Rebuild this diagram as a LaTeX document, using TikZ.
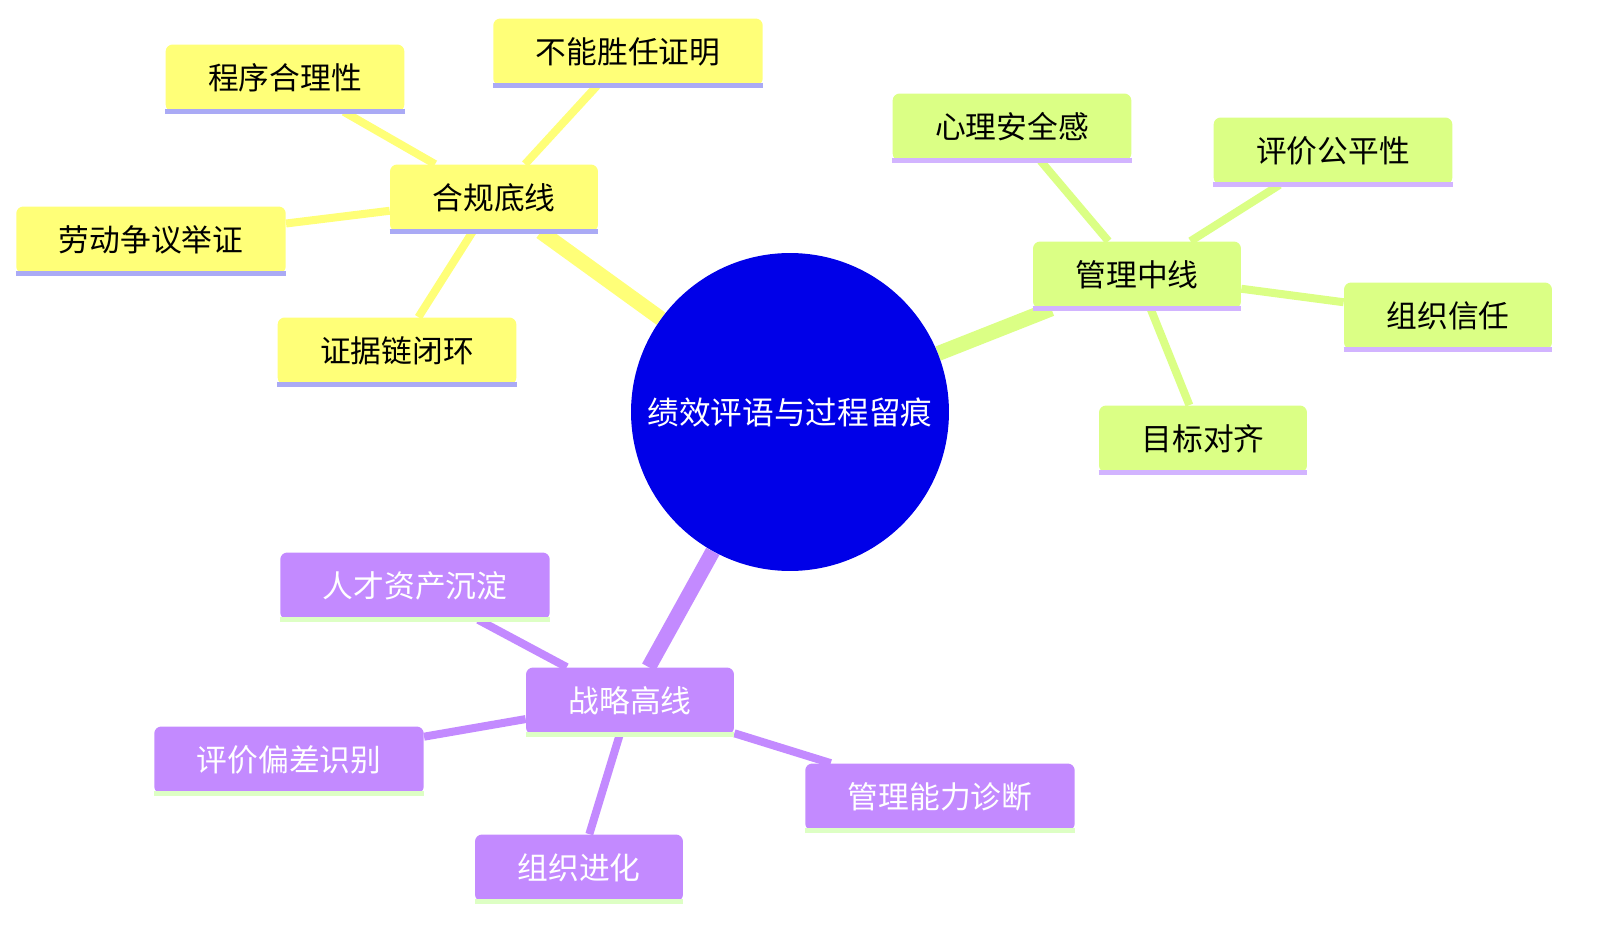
\documentclass[tikz,border=0pt]{standalone}
\usepackage{fontspec}
\setmainfont{Noto Sans CJK SC}
\usetikzlibrary{positioning,backgrounds}

\definecolor{lawyellow}{HTML}{FFFF78}
\definecolor{mgtgreen}{HTML}{DBFF85}
\definecolor{strpurple}{HTML}{C38AFF}
\definecolor{rootblue}{HTML}{0000E8}
\definecolor{linelav}{HTML}{AAAAF5}
\definecolor{linelil}{HTML}{D2B4FF}
\definecolor{linemint}{HTML}{DDFFC4}

\begin{document}
\begin{tikzpicture}[x=0.02cm,y=-0.02cm,
  leaf/.style={rectangle, rounded corners=4pt, minimum height=1.34cm, inner xsep=0.85cm, font=\fontsize{17.5}{19}\selectfont},
  yleaf/.style={leaf, fill=lawyellow, text=black},
  gleaf/.style={leaf, fill=mgtgreen, text=black},
  pleaf/.style={leaf, fill=strpurple, text=white},
  trunk/.style={line width=0.3cm},
  twig/.style={line width=0.16cm},
]
\useasboundingbox (0,0) rectangle (1617,949);

\node(root) [circle, fill=rootblue, minimum size=6.36cm, text=white, font=\fontsize{18}{20}\selectfont] at (790,412){绩效评语与过程留痕};

\node(law) [yleaf] at (494,198){合规底线};
\node(law1) [yleaf] at (285,78){程序合理性};
\node(law2) [yleaf] at (628,52){不能胜任证明};
\node(law3) [yleaf] at (151,240){劳动争议举证};
\node(law4) [yleaf] at (397,351){证据链闭环};

\node(mgt) [gleaf] at (1137,275){管理中线};
\node(mgt1) [gleaf] at (1012,127){心理安全感};
\node(mgt2) [gleaf] at (1333,151){评价公平性};
\node(mgt3) [gleaf] at (1448,316){组织信任};
\node(mgt4) [gleaf] at (1203,439){目标对齐};

\node(str) [pleaf] at (630,701){战略高线};
\node(str1) [pleaf] at (415,586){人才资产沉淀};
\node(str2) [pleaf] at (289,760){评价偏差识别};
\node(str3) [pleaf] at (579,868){组织进化};
\node(str4) [pleaf] at (940,797){管理能力诊断};

\begin{scope}[on background layer]
\draw[trunk, lawyellow] (root) -- (law);
\draw[trunk, mgtgreen] (root) -- (mgt);
\draw[trunk, strpurple] (root) -- (str);
\foreach \i in {1,...,4}{
  \draw[twig, lawyellow] (law) -- (law\i);
  \draw[twig, mgtgreen] (mgt) -- (mgt\i);
  \draw[twig, strpurple] (str) -- (str\i);
}
\end{scope}

% underlines
\foreach \n in {law,law1,law2,law3,law4}
  \draw[linelav, line width=0.1cm] (\n.south west) -- (\n.south east);
\foreach \n in {mgt,mgt1,mgt2,mgt3,mgt4}
  \draw[linelil, line width=0.1cm] (\n.south west) -- (\n.south east);
\foreach \n in {str,str1,str2,str3,str4}
  \draw[linemint, line width=0.1cm] (\n.south west) -- (\n.south east);

\end{tikzpicture}
\end{document}
